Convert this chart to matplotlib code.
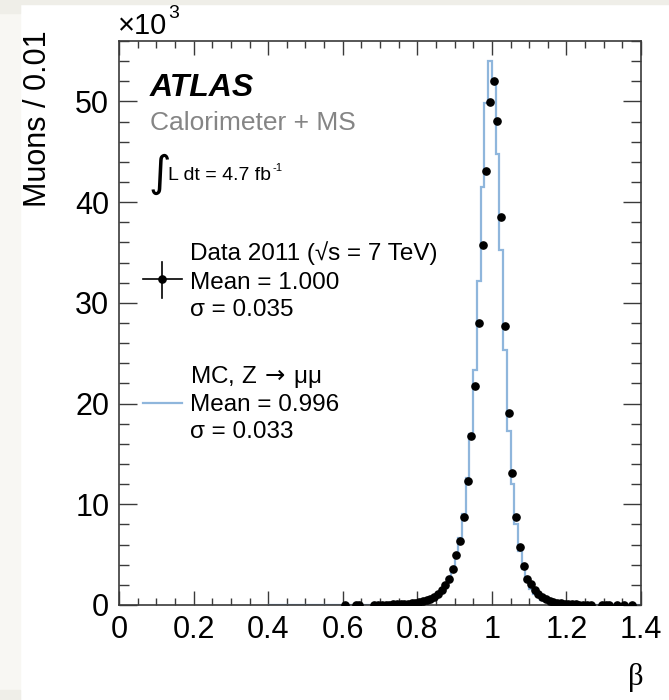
import matplotlib
matplotlib.use("Agg")
import matplotlib.pyplot as plt
from matplotlib.patches import Rectangle
from matplotlib.ticker import MultipleLocator

# ===[ Data ]==================================================================
# data 2011: bin centres (width 0.01) and muons per bin, in units of 10^3
data_x = [0.605, 0.635, 0.645,
          0.685, 0.695, 0.705, 0.715, 0.725, 0.735, 0.745, 0.755, 0.765,
          0.775, 0.785, 0.795, 0.805, 0.815, 0.825, 0.835, 0.845, 0.855,
          0.865, 0.875, 0.885, 0.895, 0.905, 0.915, 0.925, 0.935, 0.945,
          0.955, 0.965, 0.975, 0.985, 0.995, 1.005, 1.015, 1.025, 1.035,
          1.045, 1.055, 1.065, 1.075, 1.085, 1.095, 1.105, 1.115, 1.125,
          1.135, 1.145, 1.155, 1.165, 1.175, 1.185, 1.195, 1.205, 1.215,
          1.225, 1.235, 1.245, 1.255, 1.265,
          1.295, 1.305, 1.315, 1.335, 1.355, 1.375]
data_y = [0.01, 0.01, 0.01,
          0.01, 0.02, 0.02, 0.03, 0.04, 0.05, 0.06, 0.08, 0.10,
          0.13, 0.17, 0.22, 0.28, 0.36, 0.47, 0.62, 0.82, 1.10,
          1.45, 1.95, 2.60, 3.60, 5.00, 6.40, 8.70, 12.3, 16.8,
          21.7, 28.0, 35.7, 43.1, 49.9, 52.0, 48.1, 38.5, 27.7,
          19.1, 13.1, 8.70, 5.80, 3.90, 2.60, 2.10, 1.50, 1.05,
          0.75, 0.55, 0.40, 0.30, 0.22, 0.16, 0.12, 0.09, 0.07,
          0.05, 0.04, 0.03, 0.02, 0.01,
          0.01, 0.01, 0.01, 0.01, 0.01, 0.01]

# MC Z->mumu: histogram edges 0.40 ... 1.40 in steps of 0.01
mc_start, mc_width = 0.40, 0.01
mc_y = ([0.0] * 30 +
        [0.02, 0.02, 0.03, 0.03, 0.04, 0.05, 0.07, 0.09, 0.12, 0.16,
         0.21, 0.28, 0.38, 0.52, 0.72, 1.00, 1.40, 1.95, 2.70, 3.70,
         5.00, 6.70, 9.00, 12.6, 17.0, 23.3, 32.2, 41.5, 49.8, 54.0,
         51.8, 44.8, 35.2, 25.3, 17.3, 12.0, 8.00, 5.40, 3.60, 2.40,
         1.60, 1.10, 0.75, 0.50, 0.35, 0.25, 0.17, 0.12, 0.08, 0.06,
         0.04, 0.03, 0.02, 0.01] +
        [0.0] * 16)
mc_edges = [round(mc_start + i * mc_width, 2) for i in range(len(mc_y) + 1)]

x_ticks = [0, 0.2, 0.4, 0.6, 0.8, 1, 1.2, 1.4]
x_tick_labels = ["0", "0.2", "0.4", "0.6", "0.8", "1", "1.2", "1.4"]
y_ticks = [0, 10, 20, 30, 40, 50]

FONT = ["Liberation Sans", "DejaVu Sans"]
MC_COLOR = "#8fb6dc"
AX_COLOR = "#3a3a3a"

# ===[ Figure ]================================================================
fig = plt.figure(figsize=(6.69, 7.0), dpi=100)
fig.patch.set_facecolor("white")

# light scan frame round the picture
fig.add_artist(Rectangle((0, 0), 20 / 669, 1, transform=fig.transFigure,
                         color="#f8f7f3", zorder=-5))
fig.add_artist(Rectangle((0, 1 - 4 / 700), 1, 4 / 700,
                         transform=fig.transFigure, color="#efeee8",
                         zorder=-5))
fig.add_artist(Rectangle((0, 1 - 13 / 700), 20 / 669, 13 / 700,
                         transform=fig.transFigure, color="#efeee8",
                         zorder=-5))
fig.add_artist(Rectangle((0, 0), 20 / 669, 10 / 700,
                         transform=fig.transFigure, color="#efeee8",
                         zorder=-5))

ax = fig.add_axes([119 / 669, 95 / 700, 522 / 669, 564 / 700])

ax.stairs(mc_y, mc_edges, color=MC_COLOR, lw=1.6, zorder=2)
ax.plot(data_x, data_y, "o", color="black", ms=5.2, zorder=3)

ax.set_xlim(0, 1.4)
ax.set_ylim(0, 56)
ax.set_xticks(x_ticks)
ax.set_xticklabels(x_tick_labels)
ax.set_yticks(y_ticks)
ax.xaxis.set_minor_locator(MultipleLocator(0.05))
ax.yaxis.set_minor_locator(MultipleLocator(2))

ax.tick_params(which="both", direction="in", top=True, right=True,
               colors=AX_COLOR, labelcolor="black", width=1.0)
ax.tick_params(axis="x", which="major", length=10, pad=7)
ax.tick_params(axis="x", which="minor", length=5)
ax.tick_params(axis="y", which="major", length=13, pad=7)
ax.tick_params(axis="y", which="minor", length=7)
for lab in ax.get_xticklabels() + ax.get_yticklabels():
    lab.set_family(FONT)
    lab.set_fontsize(22)
for sp in ax.spines.values():
    sp.set_color(AX_COLOR)
    sp.set_linewidth(1.2)

# ===[ Labels ]================================================================
fig.text(118 / 669, 1 - 26 / 700, "\u00d710", family=FONT, fontsize=21,
         ha="left", va="center")
fig.text(168 / 669, 1 - 14 / 700, "3", family=FONT, fontsize=14,
         ha="left", va="center")
fig.text(38 / 669, 1 - 30 / 700, "Muons / 0.01", family=FONT, fontsize=22,
         rotation=90, ha="center", va="top")
fig.text(636 / 669, 1 - 677 / 700, "\u03b2", family=["Liberation Serif"],
         fontsize=22, ha="center", va="center")

ax.text(0.0594, 0.917, "ATLAS", transform=ax.transAxes, family=FONT,
        fontsize=23, weight="bold", style="italic", va="center")
ax.text(0.0594, 0.855, "Calorimeter + MS", transform=ax.transAxes,
        family=FONT, fontsize=19, color="#858585", va="center")
ax.text(0.056, 0.765, "\u222b", transform=ax.transAxes, family=["DejaVu Sans"],
        fontsize=31, va="center", ha="left")
lumi = ax.text(0.094, 0.762, "L dt = 4.7 fb", transform=ax.transAxes,
               family=FONT, fontsize=14, va="center")
ax.annotate("-1", xy=(1, 1), xycoords=lumi, xytext=(1, -1),
            textcoords="offset points", family=FONT, fontsize=8,
            ha="left", va="center")

# ===[ Legend ]================================================================
leg_x = 0.136
for fy, s in [(0.624, "Data 2011 (\u221as = 7 TeV)"),
              (0.571, "Mean = 1.000"),
              (0.523, "\u03c3 = 0.035"),
              (0.404, "MC, Z$\\,\\rightarrow\\,$\u03bc\u03bc"),
              (0.355, "Mean = 0.996"),
              (0.307, "\u03c3 = 0.033")]:
    ax.text(leg_x, fy, s, transform=ax.transAxes, family=FONT,
            fontsize=17.5, va="center")
ax.plot([0.046, 0.121], [0.578, 0.578], color="black", lw=1.2,
        transform=ax.transAxes)
ax.plot([0.0824, 0.0824], [0.544, 0.608], color="black", lw=1.2,
        transform=ax.transAxes)
ax.plot([0.0824], [0.578], "o", color="black", ms=5.2,
        transform=ax.transAxes)
ax.plot([0.046, 0.121], [0.358, 0.358], color=MC_COLOR, lw=1.6,
        transform=ax.transAxes)

fig.savefig("out.png", dpi=100)
